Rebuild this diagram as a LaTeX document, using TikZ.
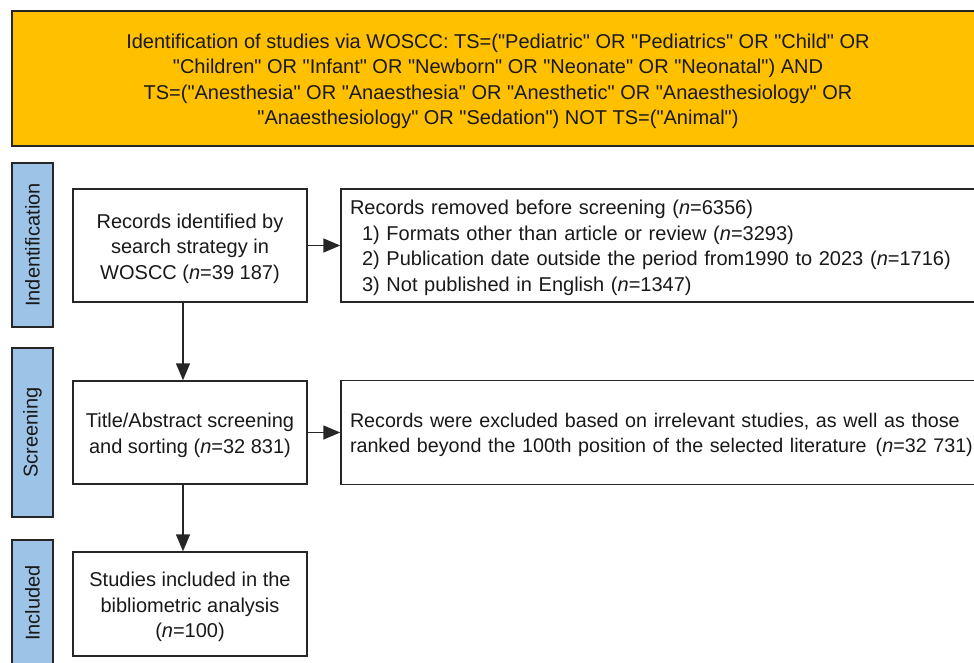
\documentclass[tikz,border=0pt]{standalone}
\usepackage{fontspec}
\setmainfont{Liberation Sans}
\usetikzlibrary{arrows.meta}
\definecolor{orangebg}{HTML}{FFC000}
\definecolor{bluebar}{HTML}{9DC3E6}
\definecolor{edge}{HTML}{262626}
\newcommand{\qq}{\textquotedbl{}}
\newcommand{\ctext}[1]{\raisebox{0pt}[\dimexpr\height+6pt\relax][\depth]{\begin{tabular}{@{}c@{}}#1\end{tabular}}}
\newcommand{\ltext}[1]{\raisebox{0pt}[\dimexpr\height+5pt\relax][\depth]{\begin{tabular}{@{}l@{}}#1\end{tabular}}}
\begin{document}
\begin{tikzpicture}[x=1pt,y=-1pt,
  every node/.style={font=\fontsize{20}{25.5}\selectfont, text=black!90},
  box/.style={draw=edge, line width=1.4pt, fill=white, inner sep=0pt},
  bar/.style={draw=edge, line width=1.4pt, fill=bluebar, rotate=90, minimum height=41pt, inner sep=0pt},
  arr/.style={draw=edge, line width=1.4pt, -{Triangle[length=17pt,width=14pt]}}]
\useasboundingbox (0,0) rectangle (974,663);
% top banner
\node[box, fill=orangebg, minimum width=972pt, minimum height=135pt] (top) at (498,78.5)
 {\ctext{Identification of studies via WOSCC: TS=(\qq Pediatric\qq{} OR \qq Pediatrics\qq{} OR \qq Child\qq{} OR\\
 \qq Children\qq{} OR \qq Infant\qq{} OR \qq Newborn\qq{} OR \qq Neonate\qq{} OR \qq Neonatal\qq) AND\\
 TS=(\qq Anesthesia\qq{} OR \qq Anaesthesia\qq{} OR \qq Anesthetic\qq{} OR \qq Anaesthesiology\qq{} OR\\
 \qq Anaesthesiology\qq{} OR \qq Sedation\qq) NOT TS=(\qq Animal\qq)}};
% side bars
\node[bar, minimum width=164pt] (idbar) at (32.5,245) {Indentification};
\node[bar, minimum width=169pt] (scbar) at (32.5,432.5) {Screening};
\node[bar, minimum width=126pt] (inbar) at (32.5,603) {Included};
% left boxes
\node[box, minimum width=234pt, minimum height=113pt] (b1) at (190,245.5)
 {\ctext{Records identified by\\ search strategy in\\ WOSCC (\textit{n}=39 187)}};
\node[box, minimum width=234pt, minimum height=103pt] (b2) at (190,432.5)
 {\ctext{Title/Abstract screening\\ and sorting (\textit{n}=32 831)}};
\node[box, minimum width=234pt, minimum height=104pt] (b3) at (190,604)
 {\ctext{Studies included in the\\ bibliometric analysis\\ (\textit{n}=100)}};
% right boxes
\node[box, minimum width=669pt, minimum height=113pt, text width=651pt, inner xsep=9pt] (r1) at (675.5,245.5)
 {\ltext{Records removed before screening (\textit{n}=6356)\\
 \hspace*{12pt}1) Formats other than article or review (\textit{n}=3293)\\
 \hspace*{12pt}2) Publication date outside the period from1990 to 2023 (\textit{n}=1716)\\
 \hspace*{12pt}3) Not published in English (\textit{n}=1347)}};
\node[box, minimum width=669pt, minimum height=104pt, text width=651pt, inner xsep=9pt] (r2) at (675.5,432.5)
 {\ltext{\fontsize{19.7}{25.5}\selectfont Records were excluded based on irrelevant studies, as well as those\\
 \fontsize{19.7}{25.5}\selectfont ranked beyond the 100th position of the selected literature\hspace{2.5pt} (\textit{n}=32 731)}};
% connectors
\coordinate (ax) at (183,0);
\draw[arr] (b1.south -| ax) -- (b2.north -| ax);
\draw[arr] (b2.south -| ax) -- (b3.north -| ax);
\draw[arr] (b1.east) -- (r1.west);
\draw[arr] (b2.east) -- (r2.west);
\end{tikzpicture}
\end{document}
